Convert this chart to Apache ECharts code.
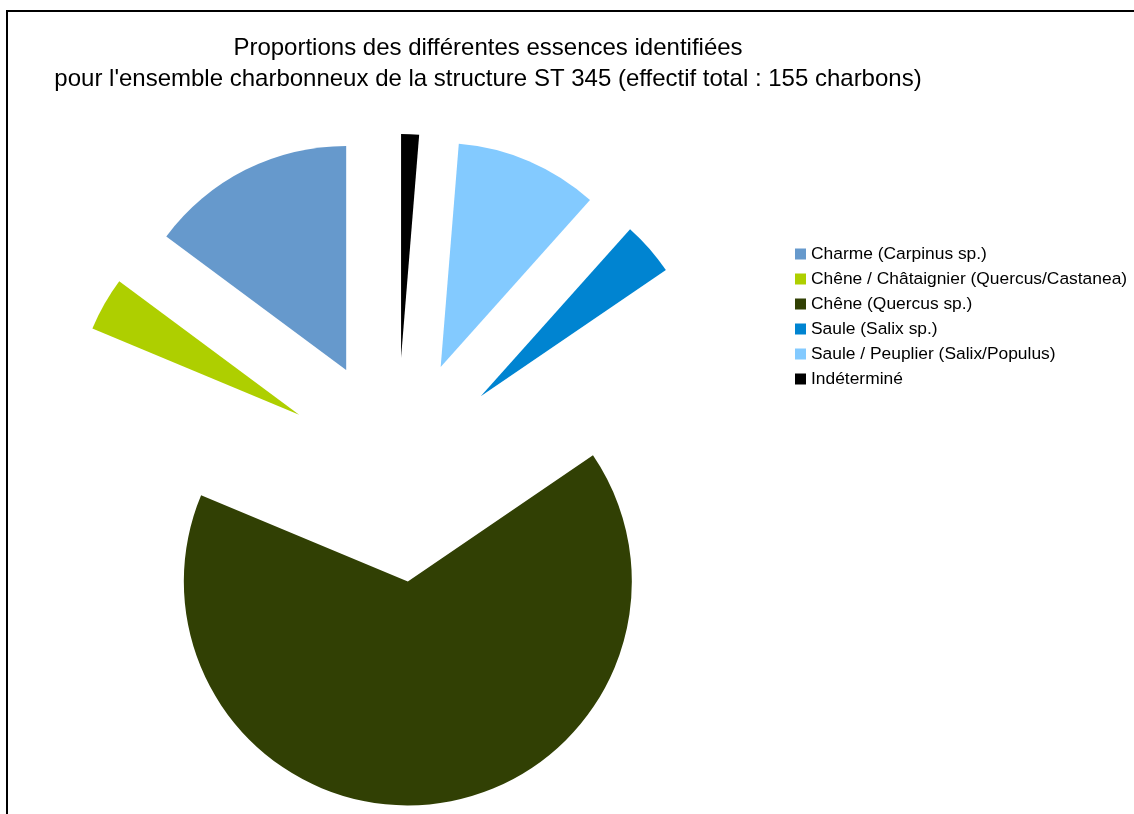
<!DOCTYPE html>
<html>
<head>
<meta charset="utf-8">
<title>ST 345 – essences identifiées</title>
<script src="https://cdn.jsdelivr.net/npm/echarts@6/dist/echarts.min.js"></script>
<style>
  html, body { margin: 0; padding: 0; background: #ffffff; }
  #chart { width: 1134px; height: 814px; }
</style>
</head>
<body>
<div id="chart"></div>
<script>
// Essences identifiées (ordre de la légende)
const categories = [
  'Charme (Carpinus sp.)',
  'Chêne / Châtaignier (Quercus/Castanea)',
  'Chêne (Quercus sp.)',
  'Saule (Salix sp.)',
  'Saule / Peuplier (Salix/Populus)',
  'Indéterminé'
];
// Nombre de charbons par essence (total 155)
const counts = [23, 6, 102, 6, 16, 2];

const titleLines = [
  'Proportions des différentes essences identifiées',
  "pour l'ensemble charbonneux de la structure ST 345 (effectif total : 155 charbons)"
];

// Palette des parts
const palette = ['#6699cc', '#aecf00', '#314004', '#0084d1', '#83caff', '#000000'];

const FONT = '"Liberation Sans", Arial, sans-serif';

const chart = echarts.init(document.getElementById('chart'), null, { renderer: 'canvas' });

chart.setOption({
  animation: false,
  backgroundColor: '#ffffff',
  title: {
    text: titleLines.join('\n'),
    left: 488,
    top: 33,
    textAlign: 'center',
    padding: 0,
    textStyle: {
      fontFamily: FONT,
      fontSize: 24,
      fontWeight: 'normal',
      color: '#000000',
      lineHeight: 31
    }
  },
  legend: {
    orient: 'vertical',
    left: 795,
    top: 245,
    padding: 0,
    itemWidth: 11,
    itemHeight: 11,
    itemGap: 7,
    icon: 'rect',
    selectedMode: false,
    textStyle: {
      fontFamily: FONT,
      fontSize: 17.4,
      lineHeight: 18,
      color: '#000000'
    },
    data: categories
  },
  graphic: [{
    type: 'polyline',
    silent: true,
    shape: { points: [[7, 814], [7, 11], [1134, 11]] },
    style: { stroke: '#000000', lineWidth: 2, fill: null }
  }],
  series: [{
    type: 'pie',
    center: [396.5, 470],
    radius: [0, 224],
    startAngle: 90,
    clockwise: false,
    selectedMode: 'multiple',
    selectedOffset: 112,
    avoidLabelOverlap: false,
    label: { show: false },
    labelLine: { show: false },
    emphasis: { disabled: true },
    select: { itemStyle: { borderWidth: 0 } },
    itemStyle: { borderWidth: 0 },
    data: categories.map((name, i) => ({
      name: name,
      value: counts[i],
      selected: true,
      itemStyle: { color: palette[i] },
      select: { itemStyle: { color: palette[i] } }
    }))
  }]
});
</script>
</body>
</html>
